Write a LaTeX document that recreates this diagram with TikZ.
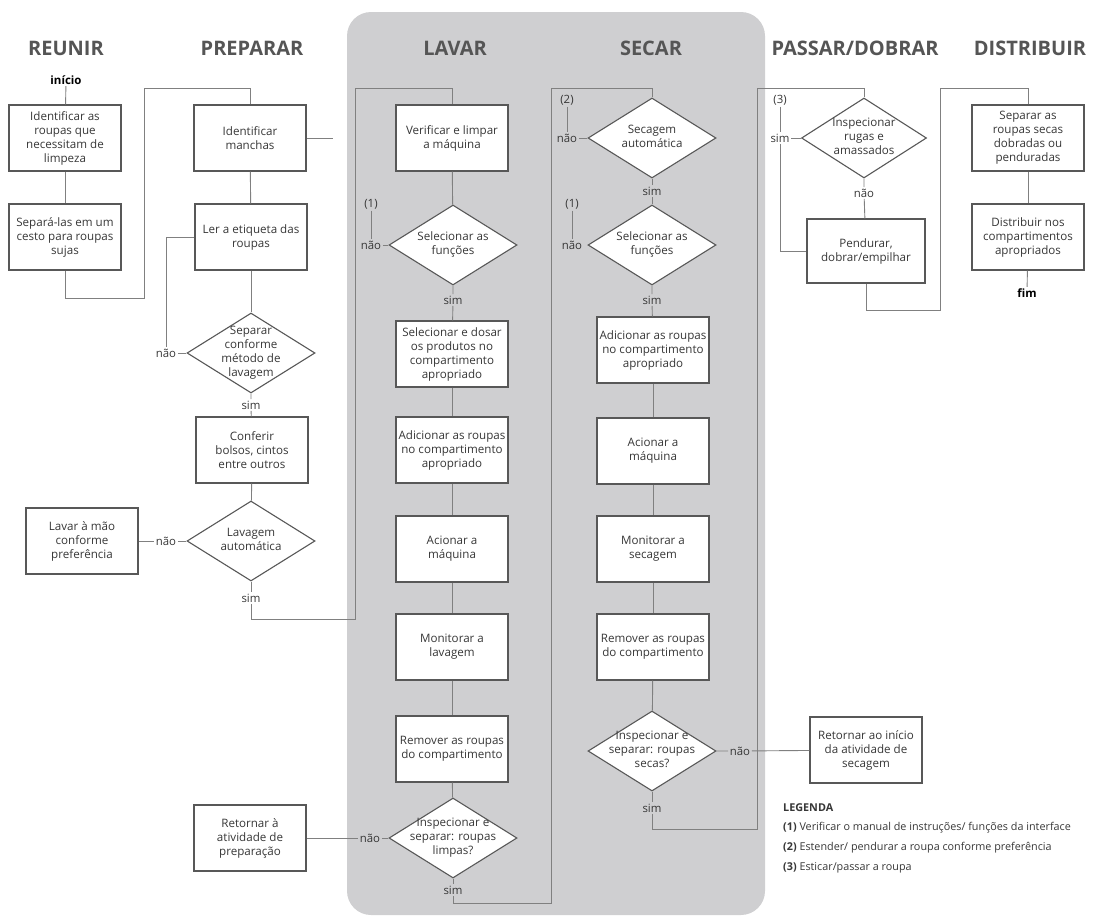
\documentclass[tikz,border=0pt]{standalone}
\usepackage{fontspec}
\setmainfont{Open Sans}
\usetikzlibrary{shapes.geometric}
\definecolor{lanegray}{RGB}{207,207,209}
\definecolor{boxline}{RGB}{88,88,88}
\definecolor{wirecol}{RGB}{128,128,128}
\definecolor{ink}{RGB}{55,55,55}
\definecolor{headink}{RGB}{85,85,85}
\newcommand{\dtext}[1]{\smash{\makebox[0pt]{\raisebox{-0.25em}{\begin{tabular}{@{}c@{}}#1\end{tabular}}}}}
\begin{document}
\begin{tikzpicture}[x=1pt, y=-1pt,
          head/.style={font=\fontsize{20}{24}\selectfont\bfseries, text=headink},
          box/.style={draw=boxline, line width=1.1pt, fill=white, minimum width=112pt,
            minimum height=66pt, align=center, inner sep=1pt, text=ink,
            font=\fontsize{11.6}{14}\selectfont},
          dec/.style={diamond, draw=boxline, line width=1.1pt, fill=white, aspect=1.6,
            minimum width=128pt, minimum height=80pt, inner sep=0pt, text=ink,
            font=\fontsize{11.6}{14}\selectfont},
          lbl/.style={font=\fontsize{11.4}{13}\selectfont, text=ink, inner sep=1.5pt},
          term/.style={font=\fontsize{11.5}{13}\selectfont\bfseries, text=black, inner sep=1.5pt},
          legend/.style={font=\fontsize{10.8}{12}\selectfont, text=ink, inner sep=0pt, anchor=west},
          wire/.style={draw=wirecol, line width=0.9pt}]
  \useasboundingbox (0,0) rectangle (1105,918);
  \fill[lanegray, rounded corners=24pt] (347,12) rectangle (765,915);

  % Headings
  \node[head] (hReunir) at (66,48) {REUNIR};
  \node[head] (hPreparar) at (252,48) {PREPARAR};
  \node[head] (hLavar) at (455,48) {LAVAR};
  \node[head] (hSecar) at (651,48) {SECAR};
  \node[head] (hPassar) at (855,48) {PASSAR/DOBRAR};
  \node[head] (hDistribuir) at (1030,48) {DISTRIBUIR};

  % Reunir
  \node[term] (inicio) at (66,80) {início};
  \node[box] (r1) at (65,138) {Identificar as\\roupas que\\necessitam de\\limpeza};
  \node[box] (r2) at (65,237) {Separá-las em um\\cesto para roupas\\sujas};

  % Preparar
  \node[box] (p1) at (250,138) {Identificar\\manchas};
  \node[box] (p2) at (251,237) {Ler a etiqueta das\\roupas};
  \node[dec] (p3) at (251,353) {\dtext{Separar\\conforme\\método de\\lavagem}};
  \node[lbl] (p3no) at (166,353) {não};
  \node[lbl] (p3yes) at (251,405) {sim};
  \node[box] (p4) at (252,450) {Conferir\\bolsos, cintos\\entre outros};
  \node[dec] (p5) at (251,541) {\dtext{Lavagem\\automática}};
  \node[lbl] (p5no) at (166,541) {não};
  \node[box] (p6) at (82,541) {Lavar à mão\\conforme\\preferência};
  \node[lbl] (p5yes) at (251,598) {sim};
  \node[box] (p7) at (250,838) {Retornar à\\atividade de\\preparação};

  % Lavar
  \node[box] (l1) at (452,138) {Verificar e limpar\\a máquina};
  \node[dec] (l2) at (453,245) {\dtext{Selecionar as\\funções}};
  \node[lbl] (l2ref) at (371,204) {(1)};
  \node[lbl] (l2no) at (371,245) {não};
  \node[lbl] (l2yes) at (453,300) {sim};
  \node[box] (l3) at (452,354) {Selecionar e dosar\\os produtos no\\compartimento\\apropriado};
  \node[box] (l4) at (452,450) {Adicionar as roupas\\no compartimento\\apropriado};
  \node[box] (l5) at (452,549) {Acionar a\\máquina};
  \node[box] (l6) at (452,647) {Monitorar a\\lavagem};
  \node[box] (l7) at (452,749) {Remover as roupas\\do compartimento};
  \node[dec] (l8) at (453,838) {\dtext{Inspecionar e\\separar: roupas\\limpas?}};
  \node[lbl] (l8no) at (370,838) {não};
  \node[lbl] (l8yes) at (453,890) {sim};

  % Secar
  \node[dec] (s1) at (652,138) {\dtext{Secagem\\automática}};
  \node[lbl] (s1ref) at (567,100) {(2)};
  \node[lbl] (s1no) at (567,138) {não};
  \node[lbl] (s1yes) at (652,191) {sim};
  \node[dec] (s2) at (652,245) {\dtext{Selecionar as\\funções}};
  \node[lbl] (s2ref) at (572,204) {(1)};
  \node[lbl] (s2no) at (572,245) {não};
  \node[lbl] (s2yes) at (652,300) {sim};
  \node[box] (s3) at (653,350) {Adicionar as roupas\\no compartimento\\apropriado};
  \node[box] (s4) at (653,451) {Acionar a\\máquina};
  \node[box] (s5) at (653,549) {Monitorar a\\secagem};
  \node[box] (s6) at (653,647) {Remover as roupas\\do compartimento};
  \node[dec] (s7) at (652,751) {\dtext{Inspecionar e\\separar: roupas\\secas?}};
  \node[lbl] (s7no) at (740,751) {não};
  \node[lbl] (s7yes) at (652,808) {sim};
  \node[box] (s8) at (866,750) {Retornar ao início\\da atividade de\\secagem};

  % Passar/dobrar
  \node[dec, minimum width=125pt] (f1) at (864,138) {\dtext{Inspecionar\\rugas e\\amassados}};
  \node[lbl] (f1ref) at (780,100) {(3)};
  \node[lbl] (f1yes) at (780,138) {sim};
  \node[lbl] (f1no) at (864,193) {não};
  \node[box, minimum width=118pt, minimum height=64pt] (f2) at (866,251) {Pendurar,\\dobrar/empilhar};

  % Distribuir
  \node[box] (d1) at (1028,138) {Separar as\\roupas secas\\dobradas ou\\penduradas};
  \node[box] (d2) at (1028,237) {Distribuir nos\\compartimentos\\apropriados};
  \node[term] (fim) at (1027,293) {fim};

  % Legenda
  \node[legend] (legTitle) at (783,808) {\bfseries LEGENDA};
  \node[legend] (leg1) at (783,828) {\textbf{(1)} Verificar o manual de instruções/ funções da interface};
  \node[legend] (leg2) at (783,848) {\textbf{(2)} Estender/ pendurar a roupa conforme preferência};
  \node[legend] (leg3) at (783,868) {\textbf{(3)} Esticar/passar a roupa};

  % Connectors
  \draw[wire] (inicio) -- (r1);
  \draw[wire] (r1) -- (r2);
  \draw[wire] (r2.south) -- ++(0,28) -- ++(79,0) -- ++(0,-210) -| (p1.north);
  \draw[wire] (p1.east) -- ++(26,0);
  \draw[wire] (p1) -- (p2);
  \draw[wire] (p2.west) -| (p3no.north);
  \draw[wire] (p3no) -- (p3);
  \draw[wire] (p2) -- (p3);
  \draw[wire] (p3) -- (p3yes) -- (p4);
  \draw[wire] (p4) -- (p5);
  \draw[wire] (p6) -- (p5no) -- (p5);
  \draw[wire] (p5) -- (p5yes);
  \draw[wire] (p5yes) -- ++(0,21) -- ++(104,0) -- ++(0,-531) -| (l1.north);

  \draw[wire] (l1) -- (l2);
  \draw[wire] (l2ref) -- (l2no) -- (l2);
  \draw[wire] (l2) -- (l2yes) -- (l3);
  \draw[wire] (l3) -- (l4);
  \draw[wire] (l4) -- (l5);
  \draw[wire] (l5) -- (l6);
  \draw[wire] (l6) -- (l7);
  \draw[wire] (l7) -- (l8);
  \draw[wire] (p7) -- (l8no) -- (l8);
  \draw[wire] (l8) -- (l8yes);
  \draw[wire] (l8yes) -- ++(0,13) -- ++(98,0) -- ++(0,-815) -| (s1.north);

  \draw[wire] (s1ref) -- (s1no) -- (s1);
  \draw[wire] (s1) -- (s1yes) -- (s2);
  \draw[wire] (s2ref) -- (s2no);
  \draw[wire] (s2) -- (s2yes) -- (s3);
  \draw[wire] (s3) -- (s4);
  \draw[wire] (s4) -- (s5);
  \draw[wire] (s5) -- (s6);
  \draw[wire] (s6) -- (s7);
  \draw[wire] (s7) -- (s7no) -- (s8);
  \draw[wire] (s7) -- (s7yes);
  \draw[wire] (s7yes) -- ++(0,21) -- ++(105,0) -- ++(0,-741) -| (f1.north);

  \draw[wire] (f1ref) -- (f1yes);
  \draw[wire] (f1yes) -- (f1);
  \draw[wire] (f1yes) |- (f2.west);
  \draw[wire] (f1) -- (f1no) -- (f2);
  \draw[wire] (f2.south) -- ++(0,27) -- ++(74,0) -- ++(0,-222) -| (d1.north);

  \draw[wire] (d1) -- (d2);
  \draw[wire] (d2) -- (fim);
\end{tikzpicture}
\end{document}
